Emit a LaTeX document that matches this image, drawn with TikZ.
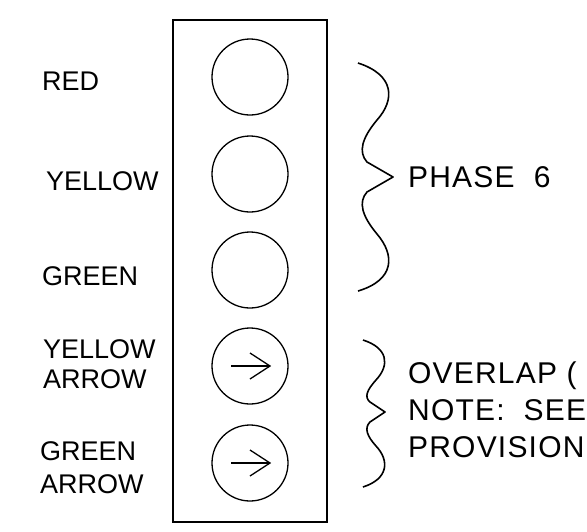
\documentclass[tikz,border=0pt]{standalone}
\usepackage{fontspec}
\setmainfont{Liberation Sans}
\tikzset{
    lamp/.style={draw, circle, line width=1.3pt, minimum size=76pt, inner sep=0pt},
    lbl/.style={anchor=base west, inner sep=0pt, font=\fontsize{27}{30}\selectfont},
    note/.style={anchor=base west, inner sep=0pt, font=\fontsize{30}{37}\selectfont\addfontfeature{LetterSpace=4}},
    brace/.style={line width=1.6pt, line join=round},
}
\begin{document}
\begin{tikzpicture}[x=1pt, y=-1pt]

    \useasboundingbox (0,0) rectangle (587,531);
    \clip (0,0) rectangle (587,531);

    % Signal head housing
    \node[draw, line width=1.8pt, minimum width=154pt, minimum height=502pt, inner sep=0pt] (housing) at (250,271) {};

    % Lenses
    \foreach \n/\y in {1/77, 2/174, 3/270, 4/366, 5/463} {
        \node[lamp] (c\n) at (250,\y) {};
    }

    % Arrow lenses
    \foreach \n in {4, 5} {
        \draw[line width=1.3pt] ([xshift=-19pt]c\n.center) -- ([xshift=20pt]c\n.center);
        \draw[line width=1.3pt, line join=miter] ([yshift=13pt]c\n.center) -- ([xshift=20pt]c\n.center)
            -- ([yshift=-13pt]c\n.center);
    }

    % Lens labels
    \node[lbl] (red) at (42,90) {RED};
    \node[lbl] (yellow) at (46,190) {YELLOW};
    \node[lbl] (green) at (42,285) {GREEN};
    \node[lbl] (ya1) at (43,358) {YELLOW};
    \node[lbl] (ya2) at (43,388) {ARROW};
    \node[lbl] (ga1) at (40,460) {GREEN};
    \node[lbl] (ga2) at (40,493) {ARROW};

    % Brace for phase 6
    \draw[brace] (358,63) .. controls (395,75) and (395,100) .. (377,120)
        .. controls (362,138) and (358,152) .. (367,162) -- (393,177) -- (367,192)
        .. controls (358,202) and (362,216) .. (377,234)
        .. controls (395,255) and (395,280) .. (358,291);
    \node[note] (phase) at (408,187) {PHASE\ \ 6};

    % Brace for overlap
    \draw[brace] (363,340) .. controls (388,348) and (390,365) .. (376,380)
        .. controls (367,390) and (364,397) .. (370,402) -- (385,412) -- (370,422)
        .. controls (364,428) and (367,436) .. (376,446)
        .. controls (390,461) and (388,479) .. (363,487);
    \node[note] (ovl1) at (408,383) {OVERLAP (};
    \node[note] (ovl2) at (408,420) {NOTE:\ \ SEE};
    \node[note] (ovl3) at (408,457) {PROVISION};

\end{tikzpicture}
\end{document}
